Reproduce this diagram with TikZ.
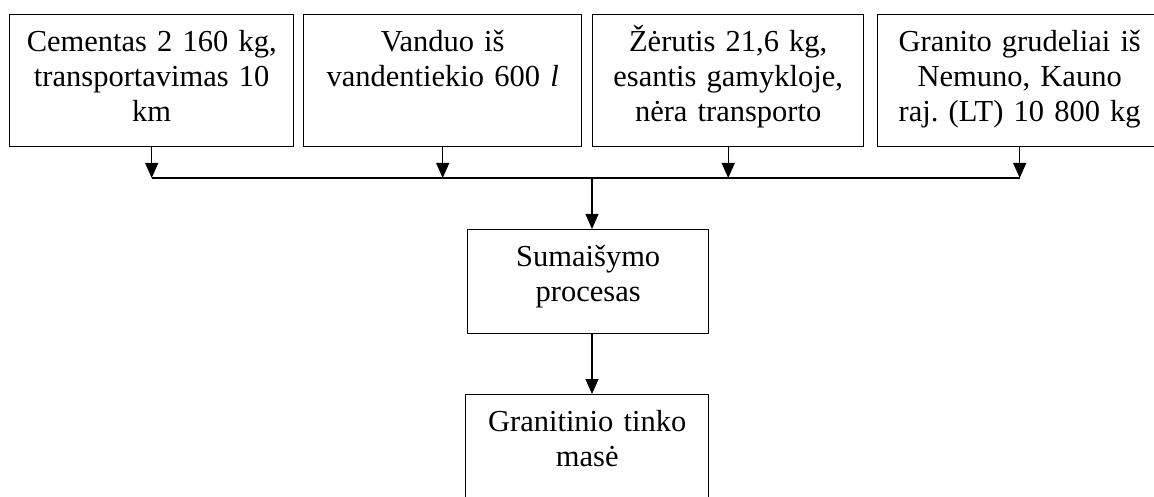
\documentclass[tikz,border=0pt]{standalone}
\usepackage{fontspec}
\setmainfont{Liberation Serif}
\usetikzlibrary{arrows.meta,calc}
% strut that keeps the first line of every box at the same height
\newcommand\firststrut{\rule{0pt}{28pt}}
\frenchspacing
\begin{document}
\begin{tikzpicture}[x=1pt,y=-1pt,
  box/.style={draw, line width=1.4pt, inner sep=0pt, anchor=north west},
  boxtext/.style={anchor=north, inner sep=0pt, text width=#1, align=center,
    font=\fontsize{30.5}{35}\selectfont},
  arr/.style={line width=1.2pt, -{Triangle[length=15pt,width=13pt]}},
  link/.style={line width=1.2pt}]
\useasboundingbox (0,0) rectangle (1154,497);
\clip (0,0) rectangle (1154,497);

% input boxes
\node[box, minimum width=284pt, minimum height=132pt] (b1) at (9,14) {};
\node[box, minimum width=278pt, minimum height=132pt] (b2) at (303,14) {};
\node[box, minimum width=271pt, minimum height=132pt] (b3) at (592,14) {};
\node[box, minimum width=284pt, minimum height=132pt] (b4) at (877,14) {};

\node[boxtext=280pt] (t1) at ($(b1.north)+(0,9)$)
  {\firststrut Cementas 2 160 kg,\\ transportavimas 10\\ km};
\node[boxtext=275pt] (t2) at ($(b2.north)+(0,9)$)
  {\firststrut Vanduo iš\\ vandentiekio 600 \textit{l}};
\node[boxtext=268pt] (t3) at ($(b3.north)+(0,9)$)
  {\firststrut Žėrutis 21,6 kg,\\ esantis gamykloje,\\ nėra transporto};
\node[boxtext=280pt] (t4) at ($(b4.north)+(0,9)$)
  {\firststrut Granito grudeliai iš\\ Nemuno, Kauno\\ raj. (LT) 10 800 kg};

% mixing and result boxes
\node[box, minimum width=241pt, minimum height=104pt] (mix) at (467,229) {};
\node[boxtext=238pt] (tmix) at ($(mix.north)+(0,9)$)
  {\firststrut Sumaišymo\\ procesas};
\node[box, minimum width=243pt, minimum height=110pt] (out) at (465,394) {};
\node[boxtext=240pt] (tout) at ($(out.north)+(0,9)$)
  {\firststrut Granitinio tinko\\ masė};

% collecting line
\coordinate (bus) at (0,178);
\coordinate (stem) at (592,178);
\draw[arr] (b1.south) -- (b1.south |- bus);
\draw[arr] (b2.south) -- (b2.south |- bus);
\draw[arr] (b3.south) -- (b3.south |- bus);
\draw[arr] (b4.south) -- (b4.south |- bus);
\draw[link] (b1.south |- bus) -- (b4.south |- bus);
\draw[arr] (stem) -- (stem |- mix.north);
\draw[arr] (mix.south -| stem) -- (out.north -| stem);
\end{tikzpicture}
\end{document}
